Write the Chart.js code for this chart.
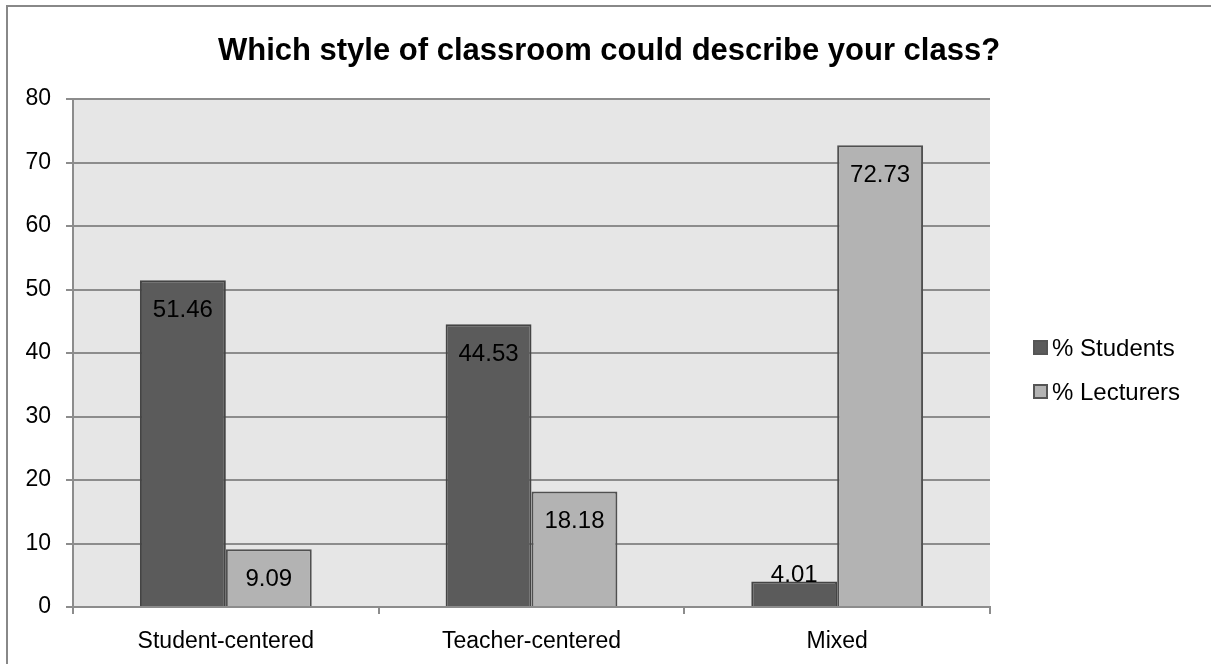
<!DOCTYPE html>
<html lang="en">
<head>
<meta charset="utf-8">
<title>Classroom style</title>
<script src="https://cdn.jsdelivr.net/npm/chart.js"></script>
<style>
  html, body { margin: 0; padding: 0; background: #fff; }
  #wrap { position: relative; width: 1211px; height: 664px; overflow: hidden; }
  #frame { position: absolute; left: 6px; top: 5px; width: 1300px; height: 800px; border: 2px solid #888; }
  canvas { position: absolute; left: 0; top: 0; }
</style>
</head>
<body>
<div id="wrap">
  <div id="frame"></div>
  <canvas id="c" width="1211" height="664"></canvas>
</div>
<script>
const categories = ['Student-centered', 'Teacher-centered', 'Mixed'];
const students = [51.46, 44.53, 4.01];
const lecturers = [9.09, 18.18, 72.73];
const seriesNames = ['% Students', '% Lecturers'];
const chartTitle = 'Which style of classroom could describe your class?';

const FONT = "'Liberation Sans', Arial, sans-serif";

// grey plot area
const plotBg = {
  id: 'plotBg',
  beforeDraw(chart) {
    const a = chart.chartArea, ctx = chart.ctx;
    ctx.save();
    ctx.fillStyle = '#e6e6e6';
    ctx.fillRect(a.left, a.top, a.right - a.left, a.bottom - a.top);
    ctx.restore();
  }
};

// title centred on the whole picture
const topTitle = {
  id: 'topTitle',
  afterDraw(chart) {
    const ctx = chart.ctx;
    ctx.save();
    ctx.font = 'bold 31px ' + FONT;
    ctx.fillStyle = '#000';
    ctx.textAlign = 'center';
    ctx.textBaseline = 'middle';
    ctx.fillText(chartTitle, 609, 51);
    ctx.restore();
  }
};

// value labels at inside end of each bar
const barLabels = {
  id: 'barLabels',
  afterDatasetsDraw(chart) {
    const ctx = chart.ctx;
    const base = chart.scales.y.getPixelForValue(0);
    ctx.save();
    ctx.font = '24px ' + FONT;
    ctx.fillStyle = '#000';
    ctx.textAlign = 'center';
    ctx.textBaseline = 'middle';
    chart.data.datasets.forEach((ds, i) => {
      chart.getDatasetMeta(i).data.forEach((bar, j) => {
        const y = (base - bar.y < 30) ? base - 32 : bar.y + 30;
        ctx.fillText(ds.data[j].toFixed(2), bar.x, y);
      });
    });
    ctx.restore();
  }
};

// legend on the right, Excel style
const sideLegend = {
  id: 'sideLegend',
  afterDraw(chart) {
    const ctx = chart.ctx;
    ctx.save();
    ctx.font = '24px ' + FONT;
    ctx.textBaseline = 'middle';
    chart.data.datasets.forEach((ds, i) => {
      const y = 348 + i * 44;
      ctx.fillStyle = ds.backgroundColor;
      ctx.strokeStyle = '#555';
      ctx.lineWidth = 2;
      ctx.fillRect(1034, y - 7, 13, 13);
      ctx.strokeRect(1034, y - 7, 13, 13);
      ctx.fillStyle = '#000';
      ctx.fillText(ds.label, 1052, y + 1);
    });
    ctx.restore();
  }
};

new Chart(document.getElementById('c'), {
  type: 'bar',
  data: {
    labels: categories,
    datasets: [
      { label: seriesNames[0], data: students, backgroundColor: '#5b5b5b', borderColor: '#444', borderWidth: 2 },
      { label: seriesNames[1], data: lecturers, backgroundColor: '#b3b3b3', borderColor: '#505050', borderWidth: 2 }
    ]
  },
  options: {
    responsive: false,
    animation: false,
    devicePixelRatio: 1,
    layout: { padding: { left: 0, right: 221, top: 99, bottom: 0 } },
    datasets: { bar: { categoryPercentage: 0.562, barPercentage: 1.0 } },
    plugins: {
      legend: { display: false },
      tooltip: { enabled: false },
      title: { display: false }
    },
    scales: {
      x: {
        offset: true,
        afterFit(scale) { scale.height = 57; },
        grid: { display: true, offset: true, drawOnChartArea: false, color: '#8c8c8c', lineWidth: 2, tickLength: 7 },
        border: { color: '#8c8c8c', width: 2 },
        ticks: { color: '#000', font: { family: FONT, size: 23 }, padding: 14 }
      },
      y: {
        min: 0,
        max: 80,
        afterFit(scale) { scale.width = 73; },
        ticks: { stepSize: 10, color: '#000', font: { family: FONT, size: 23 }, padding: 15 },
        grid: { color: '#8c8c8c', lineWidth: 2, tickLength: 7 },
        border: { color: '#8c8c8c', width: 2 }
      }
    }
  },
  plugins: [plotBg, barLabels, sideLegend, topTitle]
});
</script>
</body>
</html>
